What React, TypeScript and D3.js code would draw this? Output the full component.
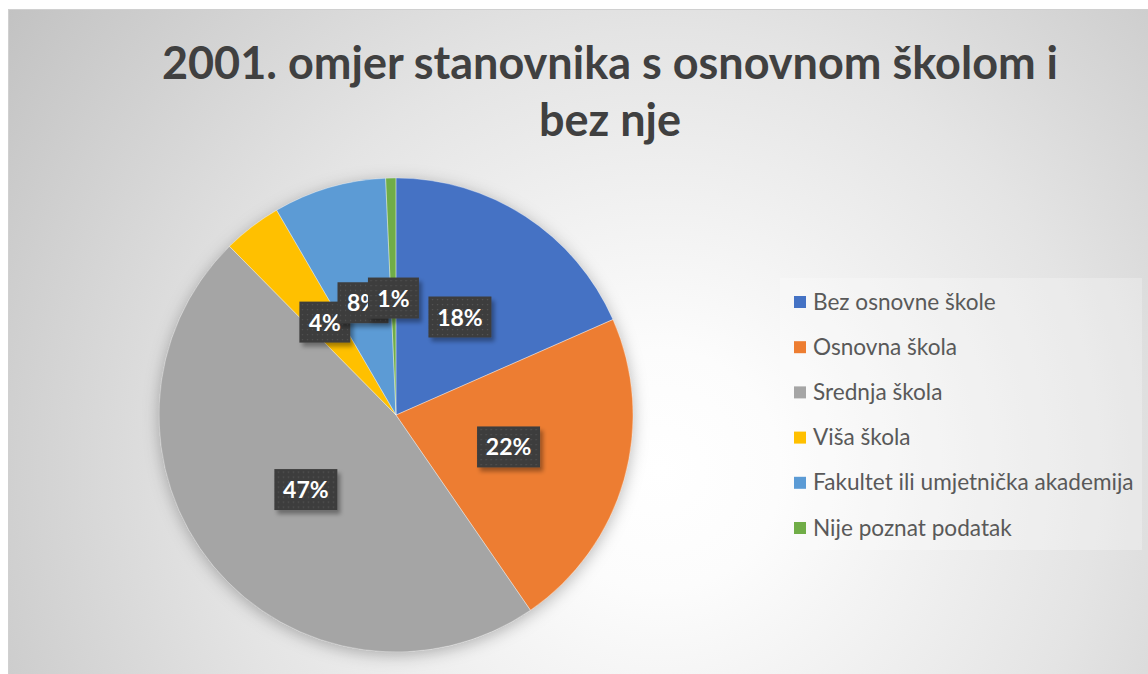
import React, { useEffect } from "react";
import * as d3 from "d3";

const categories = [
  "Bez osnovne škole",
  "Osnovna škola",
  "Srednja škola",
  "Viša škola",
  "Fakultet ili umjetnička akademija",
  "Nije poznat podatak",
];
const values = [18.4, 22.0, 47.2, 4.0, 7.7, 0.7];
const colors = ["#4472C4", "#ED7D31", "#A5A5A5", "#FFC000", "#5B9BD5", "#70AD47"];
const titleLines = ["2001. omjer stanovnika s osnovnom školom i", "bez nje"];

const W = 1148;
const H = 674;

export default function App() {
  useEffect(() => {
    document.body.style.margin = "0";
  }, []);

  const cx = 396;
  const cy = 415;
  const R = 237;
  const total = d3.sum(values);
  const pie = d3.pie<number>().sort(null).value((d) => d);
  const arcs = pie(values);
  const arc = d3.arc<d3.PieArcDatum<number>>().innerRadius(0).outerRadius(R);
  const labelArc = d3.arc<d3.PieArcDatum<number>>().innerRadius(0).outerRadius(234);
  const color = d3.scaleOrdinal<string, string>().domain(categories).range(colors);
  const fmt = (v: number) => `${Math.round((v / total) * 100)}%`;

  const legendY = d3
    .scalePoint<string>()
    .domain(categories)
    .range([302, 528]);

  const font = "Lato, 'Open Sans', sans-serif";

  return (
    <svg width={W} height={H} style={{ display: "block" }}>
      <defs>
        <radialGradient id="bg" gradientUnits="userSpaceOnUse" cx={660} cy={470} r={800}>
          <stop offset="0" stopColor="#ffffff" />
          <stop offset="0.15" stopColor="#fcfcfc" />
          <stop offset="0.55" stopColor="#e4e4e4" />
          <stop offset="1" stopColor="#c2c2c2" />
        </radialGradient>
        <pattern id="dots" width={5} height={5} patternUnits="userSpaceOnUse">
          <rect width={5} height={5} fill="#3d3d3d" />
          <rect x={2} y={2} width={1.2} height={1.2} fill="#555555" />
        </pattern>
        <filter id="pieShadow" x="-20%" y="-20%" width="140%" height="140%">
          <feDropShadow dx={0} dy={3} stdDeviation={8} floodColor="#000" floodOpacity={0.28} />
        </filter>
        <filter id="boxShadow" x="-30%" y="-30%" width="160%" height="160%">
          <feDropShadow dx={3} dy={4} stdDeviation={2} floodColor="#000" floodOpacity={0.35} />
        </filter>
      </defs>
      <rect x={0} y={0} width={W} height={H} fill="#ffffff" />
      <rect x={8.5} y={9.5} width={1204} height={700} fill="url(#bg)" stroke="#d0d0d0" strokeWidth={1} />

      {titleLines.map((t, i) => (
        <text
          key={i}
          x={610}
          y={79 + i * 57}
          textAnchor="middle"
          fontFamily={font}
          fontWeight={700}
          fontSize={45}
          fill="#404040"
        >
          {t}
        </text>
      ))}

      <g transform={`translate(${cx},${cy})`}>
        <g filter="url(#pieShadow)">
          {arcs.map((a, i) => (
            <path key={i} d={arc(a) || ""} fill={color(categories[i])} />
          ))}
        </g>
        {arcs.map((a, i) => (
          <path key={"s" + i} d={arc(a) || ""} fill="none" stroke="#ffffff" strokeOpacity={0.5} strokeWidth={0.6} />
        ))}
        {arcs.map((a, i) => {
          const [lx, ly] = labelArc.centroid(a);
          const txt = fmt(values[i]);
          const bw = 27 + 12 * txt.length;
          const bh = 41;
          return (
            <g key={"l" + i} transform={`translate(${lx},${ly})`}>
              <rect x={-bw / 2} y={-bh / 2} width={bw} height={bh} fill="url(#dots)" filter="url(#boxShadow)" />
              <text
                x={0}
                y={8.5}
                textAnchor="middle"
                fontFamily={font}
                fontWeight={700}
                fontSize={23}
                fill="#ffffff"
              >
                {txt}
              </text>
            </g>
          );
        })}
      </g>

      <rect x={780} y={278} width={362} height={272} fill="#ffffff" fillOpacity={0.25} />
      {categories.map((c, i) => {
        const y = legendY(c) as number;
        return (
          <g key={"lg" + i}>
            <rect x={794} y={y - 6} width={12} height={12} fill={color(c)} />
            <text x={813} y={y + 7.5} fontFamily={font} fontSize={22.6} fill="#595959">
              {c}
            </text>
          </g>
        );
      })}
    </svg>
  );
}
